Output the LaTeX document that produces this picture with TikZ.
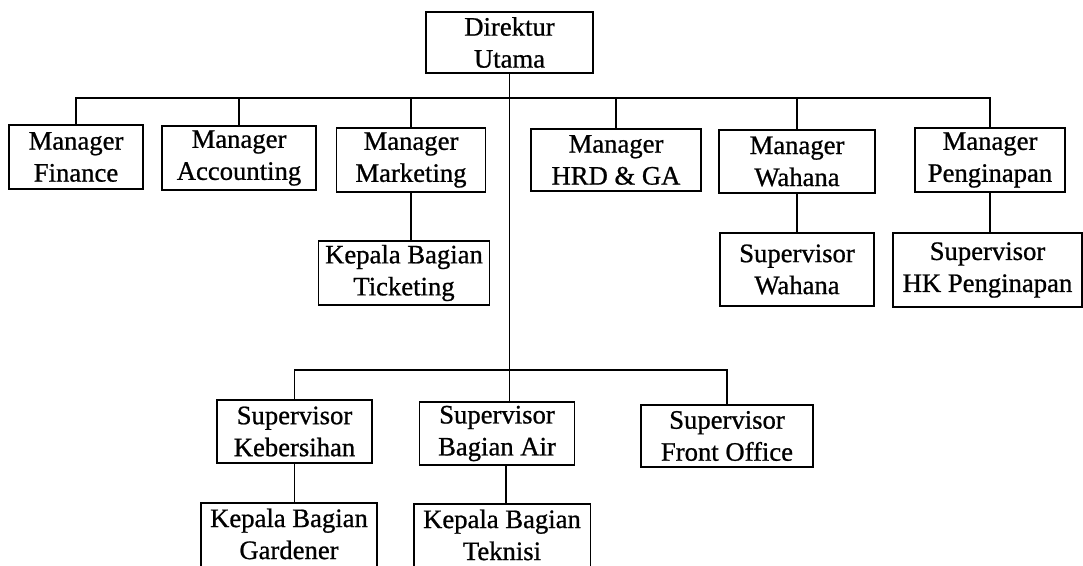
\documentclass[tikz,border=0pt]{standalone}
\usepackage{fontspec}
\setmainfont{Liberation Serif}
\newfontfamily\boxfont{Liberation Serif}[FakeBold=0.8]
\begin{document}
\begin{tikzpicture}[x=0.75pt,y=-0.75pt,
  box/.style={draw,line width=1.4pt,align=center,inner sep=0pt,
    font=\boxfont\fontsize{20}{24}\selectfont},
  txt/.style={box,draw=none},
  conn/.style={line width=1.4pt}]
\useasboundingbox (0,0) rectangle (1083,565);
\fill[white] (0,0) rectangle (1083,565);
\clip (0,0) rectangle (1083,565);
% top
\node[box,minimum width=125.25pt,minimum height=45.75pt] (dir) at (509.5,42.5) {Direktur\\Utama};
% managers
\node[box,minimum width=100.5pt,minimum height=48pt] (fin) at (76,157) {Manager\\Finance};
\node[box,minimum width=115.5pt,minimum height=48pt] (acc) at (239,158) {Manager\\Accounting};
\node[box,minimum width=111.75pt,minimum height=48pt] (mkt) at (411,160) {Manager\\Marketing};
\node[box,minimum width=127.5pt,minimum height=46.5pt] (hrd) at (616,160) {Manager\\HRD \& GA};
\node[box,minimum width=117pt,minimum height=47.25pt] (wah) at (797,161.5) {Manager\\Wahana};
\node[box,minimum width=112.5pt,minimum height=48pt] (pen) at (990,160) {Manager\\Penginapan};
% second row
\node[box,minimum width=128.25pt,minimum height=48pt] (tic) at (404,273) {Kepala Bagian\\Ticketing};
\node[box,minimum width=115.5pt,minimum height=54.75pt] (swah) at (797,269.5) {Supervisor\\Wahana};
\node[box,minimum width=141.75pt,minimum height=55.5pt] (hk) at (987.5,270) {Supervisor\\HK Penginapan};
% supervisors
\node[box,minimum width=116.25pt,minimum height=47.25pt] (keb) at (294.5,431.5) {Supervisor\\Kebersihan};
\node[box,minimum width=116.25pt,minimum height=47.25pt] (air) at (497,433.5) {Supervisor\\Bagian Air};
\node[box,minimum width=129pt,minimum height=46.5pt] (fo) at (727,436) {Supervisor\\Front Office};
% bottom row (cut by page edge)
\node[txt,minimum width=130.5pt,minimum height=45pt,anchor=north] (gar) at (289,503) {Kepala Bagian\\Gardener};
\node[txt,minimum width=131.25pt,minimum height=45pt,anchor=north] (tek) at (502,504) {Kepala Bagian\\Teknisi};
\draw[conn] (gar.south west) ++(0,20) -- (gar.north west) -- (gar.north east) -- ++(0,80);
\draw[conn] (tek.south west) ++(0,20) -- (tek.north west) -- (tek.north east) -- ++(0,80);
% buses
\coordinate (busT) at (509,98);
\coordinate (busB) at (509,370);
% connectors
\draw[conn] (dir.south) -- (dir.south |- air.north);
\draw[conn] (fin.north) -- (fin.north |- busT) -- (pen.north |- busT) -- (pen.north);
\draw[conn] (acc.north) -- (acc.north |- busT);
\draw[conn] (mkt.north) -- (mkt.north |- busT);
\draw[conn] (hrd.north) -- (hrd.north |- busT);
\draw[conn] (wah.north) -- (wah.north |- busT);
\draw[conn] (mkt.south) -- (mkt.south |- tic.north);
\draw[conn] (wah.south) -- (wah.south |- swah.north);
\draw[conn] (pen.south) -- (pen.south |- hk.north);
\draw[conn] (keb.north) -- (keb.north |- busB) -- (fo.north |- busB) -- (fo.north);
\draw[conn] (keb.south) -- (keb.south |- gar.north);
\draw[conn] (air.south) ++(9,0) coordinate (airs) -- (airs |- tek.north);
\end{tikzpicture}
\end{document}
